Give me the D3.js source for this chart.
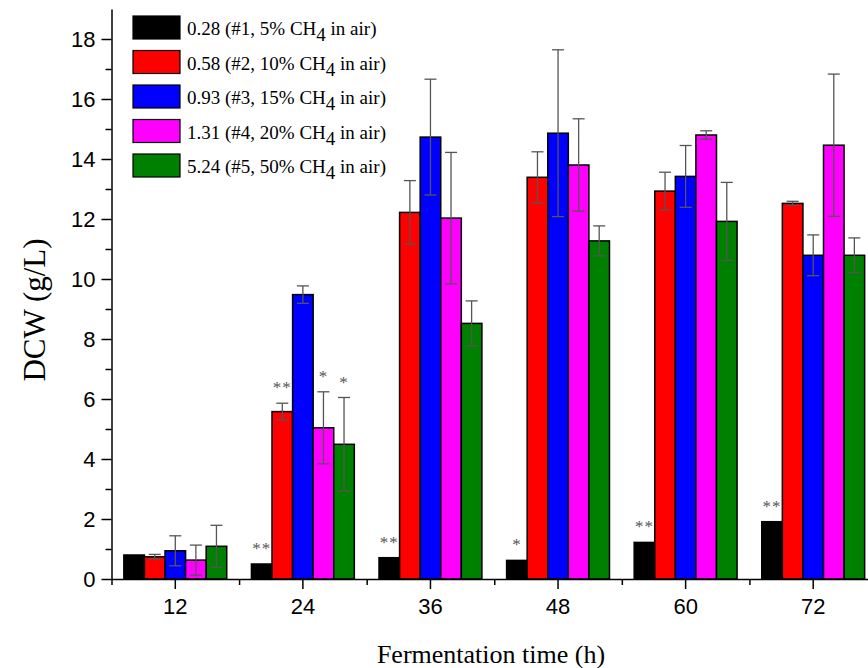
<!DOCTYPE html>
<html lang="en-US">
<head>
<meta charset="UTF-8">
<title>DCW vs fermentation time</title>
<script src="https://d3js.org/d3.v7.min.js"></script>
<style>
  body { margin: 0; background: #fff; }
  .tick text { font-family: "Liberation Sans", Arial, sans-serif; font-size: 22px; fill: #000; }
  .bar { stroke: #000; stroke-width: 1.5px; }
  .err { stroke: #555; stroke-width: 1.3px; fill: none; }
  .sig { font-family: "Liberation Serif", "Times New Roman", serif; font-size: 17px; fill: #555; letter-spacing: 1px; }
  .legend text { font-family: "Liberation Serif", "Times New Roman", serif; font-size: 19px; fill: #000; }
  .title { font-family: "Liberation Serif", "Times New Roman", serif; fill: #000; }
</style>
</head>
<body>
<script>

// categories (fermentation time, h)
var times = ["12", "24", "36", "48", "60", "72"];

var seriesNames = ["0.28", "0.58", "0.93", "1.31", "5.24"];
var seriesNotes = ["#1, 5%", "#2, 10%", "#3, 15%", "#4, 20%", "#5, 50%"];
var colors = ["#000000", "#ff0000", "#0000ff", "#ff00ff", "#008000"];

// DCW (g/L) mean values
var dcw1 = [0.80, 0.50, 0.71, 0.62, 1.22, 1.91];
var dcw2 = [0.74, 5.58, 12.22, 13.39, 12.93, 12.52];
var dcw3 = [0.94, 9.48, 14.73, 14.86, 13.42, 10.79];
var dcw4 = [0.63, 5.04, 12.03, 13.80, 14.80, 14.46];
var dcw5 = [1.09, 4.49, 8.52, 11.27, 11.92, 10.79];

// standard deviations
var sd1 = [0, 0, 0, 0, 0, 0];
var sd2 = [0.08, 0.28, 1.06, 0.85, 0.63, 0.07];
var sd3 = [0.50, 0.29, 1.93, 2.78, 1.03, 0.68];
var sd4 = [0.50, 1.20, 2.19, 1.54, 0.14, 2.37];
var sd5 = [0.70, 1.56, 0.75, 0.50, 1.30, 0.58];

// significance marks
var sig1 = ["", "**", "**", "*", "**", "**"];
var sig2 = ["", "**", "", "", "", ""];
var sig3 = ["", "", "", "", "", ""];
var sig4 = ["", "*", "", "", "", ""];
var sig5 = ["", "*", "", "", "", ""];

var yTicks = [0, 2, 4, 6, 8, 10, 12, 14, 16, 18];

var allVals = [dcw1, dcw2, dcw3, dcw4, dcw5];
var allSd = [sd1, sd2, sd3, sd4, sd5];
var allSig = [sig1, sig2, sig3, sig4, sig5];

var data = [];
times.forEach(function(t, i) {
  seriesNames.forEach(function(s, j) {
    data.push({time: t, series: s, idx: j, v: allVals[j][i], sd: allSd[j][i], sig: allSig[j][i]});
  });
});

var W = 868, H = 668;
var plotLeft = 111.5, plotRight = 877, plotTop = 9, plotBottom = 579;

var svg = d3.select("body").append("svg")
    .attr("width", W)
    .attr("height", H);

var x0 = d3.scaleBand()
    .domain(times)
    .range([plotLeft, plotRight])
    .padding(0);

var x1 = d3.scaleBand()
    .domain(seriesNames)
    .range([0, x0.bandwidth()])
    .paddingInner(0)
    .paddingOuter(0.6);

var y = d3.scaleLinear()
    .domain([0, 19])
    .range([plotBottom, plotTop]);

function cx(d) { return x0(d.time) + x1(d.series) + x1.bandwidth() / 2; }

// bars
svg.selectAll(".bar")
  .data(data)
  .enter().append("rect")
    .attr("class", "bar")
    .attr("x", function(d) { return x0(d.time) + x1(d.series); })
    .attr("width", x1.bandwidth())
    .attr("y", function(d) { return y(d.v); })
    .attr("height", function(d) { return y(0) - y(d.v); })
    .attr("fill", function(d) { return colors[d.idx]; });

// error bars
var errData = data.filter(function(d) { return d.sd > 0; });
var cap = 6;
var eg = svg.selectAll(".errg")
  .data(errData)
  .enter().append("g");

eg.append("line").attr("class", "err")
    .attr("x1", cx).attr("x2", cx)
    .attr("y1", function(d) { return y(d.v + d.sd); })
    .attr("y2", function(d) { return y(d.v - d.sd); });
eg.append("line").attr("class", "err")
    .attr("x1", function(d) { return cx(d) - cap; })
    .attr("x2", function(d) { return cx(d) + cap; })
    .attr("y1", function(d) { return y(d.v + d.sd); })
    .attr("y2", function(d) { return y(d.v + d.sd); });
eg.append("line").attr("class", "err")
    .attr("x1", function(d) { return cx(d) - cap; })
    .attr("x2", function(d) { return cx(d) + cap; })
    .attr("y1", function(d) { return y(d.v - d.sd); })
    .attr("y2", function(d) { return y(d.v - d.sd); });

// significance asterisks
svg.selectAll(".sig")
  .data(data.filter(function(d) { return d.sig !== ""; }))
  .enter().append("text")
    .attr("class", "sig")
    .attr("x", cx)
    .attr("y", function(d) { return y(d.v + d.sd) - 10; })
    .attr("text-anchor", "middle")
    .text(function(d) { return d.sig; });

// y axis with minor ticks
var yMinor = d3.range(1, 19, 2);
svg.append("g")
    .attr("transform", "translate(" + plotLeft + ",0)")
    .call(d3.axisLeft(y).tickValues(yMinor).tickSize(6).tickFormat(""))
    .call(function(g) { g.select(".domain").remove(); });

svg.append("g")
    .attr("class", "axis axis--y")
    .attr("transform", "translate(" + plotLeft + ",0)")
    .call(d3.axisLeft(y).tickValues(yTicks).tickSize(10).tickSizeOuter(0).tickPadding(6))
    .call(function(g) { g.select(".domain").attr("stroke-width", 1.5); });

// x axis: major ticks at categories, minor ticks at band edges
var xMinorScale = d3.scaleLinear().domain([0, times.length]).range([plotLeft, plotRight]);
svg.append("g")
    .attr("transform", "translate(0," + plotBottom + ")")
    .call(d3.axisBottom(xMinorScale).tickValues(d3.range(0, times.length + 1)).tickSize(6).tickFormat(""))
    .call(function(g) { g.select(".domain").remove(); });

svg.append("g")
    .attr("class", "axis axis--x")
    .attr("transform", "translate(0," + plotBottom + ")")
    .call(d3.axisBottom(x0).tickSize(10).tickSizeOuter(0).tickPadding(9))
    .call(function(g) { g.select(".domain").attr("stroke-width", 1.5); });

svg.selectAll(".tick line").attr("stroke-width", 1.5);

// axis titles
svg.append("text")
    .attr("class", "title")
    .attr("x", 491)
    .attr("y", 663)
    .attr("text-anchor", "middle")
    .style("font-size", "26px")
    .text("Fermentation time (h)");

svg.append("text")
    .attr("class", "title")
    .attr("transform", "translate(45,310) rotate(-90)")
    .attr("text-anchor", "middle")
    .style("font-size", "31px")
    .text("DCW (g/L)");

// legend
var legend = svg.append("g").attr("class", "legend");
var lg = legend.selectAll("g")
  .data(seriesNames)
  .enter().append("g")
    .attr("transform", function(d, i) { return "translate(133," + (16 + i * 34.5) + ")"; });

lg.append("rect")
    .attr("width", 47)
    .attr("height", 23)
    .attr("fill", function(d, i) { return colors[i]; })
    .attr("stroke", "#000")
    .attr("stroke-width", 1.2);

var lt = lg.append("text")
    .attr("x", 54)
    .attr("y", 19);
lt.append("tspan").text(function(d, i) { return d + " (" + seriesNotes[i] + " CH"; });
lt.append("tspan").attr("dy", 6).text("4");
lt.append("tspan").attr("dy", -6).text(" in air)");

</script>
</body>
</html>
